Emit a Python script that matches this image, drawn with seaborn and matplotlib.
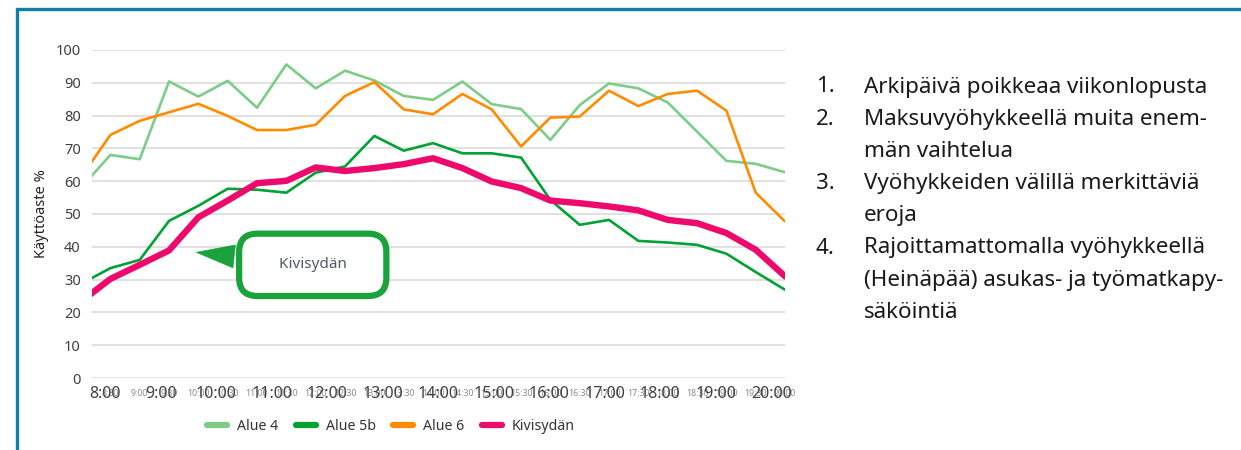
import matplotlib
matplotlib.use("Agg")
import matplotlib.pyplot as plt
import seaborn as sns
import numpy as np
import pandas as pd
from matplotlib.lines import Line2D

# data, one value per half hour 8:00 ... 20:00
ajat = [f"{h}:{m:02d}" for h in range(8, 21) for m in (0, 30)][:25]
tunnit = [f"{h}:00" for h in range(8, 21)]

alue4 = [58, 68.0, 66.7, 90.4, 85.8, 90.6, 82.4, 95.6, 88.3, 93.7, 90.7, 86.0, 84.8,
         90.4, 83.5, 82.0, 72.6, 83.2, 89.8, 88.3, 84.0, 75.1, 66.2, 65.3, 62.7]
alue5b = [28.7, 33.5, 36.0, 47.9, 52.5, 57.7, 57.4, 56.5, 62.6, 64.5, 73.8, 69.3, 71.6,
          68.5, 68.5, 67.2, 54.3, 46.7, 48.2, 41.8, 41.3, 40.6, 37.9, 32.3, 26.9]
alue6 = [61.2, 74.1, 78.4, 81.0, 83.6, 79.9, 75.6, 75.6, 77.2, 86.0, 90.2, 81.9, 80.4,
         86.6, 81.9, 70.6, 79.4, 79.7, 87.6, 82.9, 86.6, 87.6, 81.5, 56.5, 47.7]
kivisydan = [23.3, 30.2, 34.5, 38.9, 49.0, 54.1, 59.4, 60.1, 64.2, 63.1, 64.0, 65.2, 67.0,
             64.0, 59.9, 57.9, 54.1, 53.3, 52.3, 51.1, 48.2, 47.2, 44.2, 39.1, 31.0]

sarjat = ["Alue 4", "Alue 5b", "Alue 6", "Kivisydän"]
arvot = [alue4, alue5b, alue6, kivisydan]
varit = ["#7dcc87", "#00a234", "#ff8c00", "#ee0a6c"]
paksuus = [1.9, 1.9, 1.9, 4.6]

teksti = [("1.", "Arkipäivä poikkeaa viikonlopusta"),
          ("2.", "Maksuvyöhykkeellä muita enem-"), ("", "män vaihtelua"),
          ("3.", "Vyöhykkeiden välillä merkittäviä"), ("", "eroja"),
          ("4.", "Rajoittamattomalla vyöhykkeellä"),
          ("", "(Heinäpää) asukas- ja työmatkapy-"), ("", "säköintiä")]

sns.set_style("white")
plt.rcParams['font.family'] = ['Noto Sans', 'DejaVu Sans']

f = plt.figure(figsize=(12.41, 4.5), dpi=100)
ax = f.add_axes([0.0741, 0.16, 0.5585, 0.7289])

x = np.arange(len(ajat))
for nimi, y, c, lw in zip(sarjat, arvot, varit, paksuus):
    sns.lineplot(x=x, y=y, color=c, linewidth=lw, ax=ax, zorder=3)

# small half hour labels + the big hour labels laid over them
ax.set_xticks(x)
ax.set_xticklabels(ajat, fontsize=6.3, color="#8a8a8a")
ax.tick_params(axis="x", length=0, pad=8)
ax.set_xlim(0.373, 24)
ax.set_ylim(0, 100)
ax.set_yticks(range(0, 101, 10))
ax.yaxis.grid(True, color="#d9d9d9", linewidth=1.1)
ax.xaxis.grid(False)
for s in ax.spines.values():
    s.set_visible(False)
ax.tick_params(axis="y", length=0, labelsize=10.5, labelcolor="#404040", pad=8)
ax.set_ylabel("Käyttöaste %", fontsize=10.5, color="#222222", labelpad=5)

for k, t in enumerate(tunnit):
    ax.text(0.019 + k * (0.98 - 0.019) / 12, -0.048, t, transform=ax.transAxes,
            ha="center", va="center", fontsize=11.5, color="#404040")

# callout
vihrea = "#1aa33a"
ax.annotate("    Kivisydän    ", xy=(3.84, 38.4), xytext=(7.9, 34.5),
            ha="center", va="center", fontsize=11, color="#4f5a65", zorder=5,
            bbox=dict(boxstyle="round,pad=1.55,rounding_size=1.2", fc="white",
                      ec=vihrea, lw=4.5),
            arrowprops=dict(arrowstyle="wedge,tail_width=1.5,shrink_factor=0.5",
                            fc=vihrea, ec=vihrea, lw=0.5))

kahvat = [Line2D([0], [0], color=c, lw=4.5) for c in varit]
f.legend(kahvat, sarjat, loc="center", bbox_to_anchor=(391 / 1241, 1 - 426 / 450),
         ncol=4, frameon=False, fontsize=10.2, handlelength=1.4, handletextpad=0.7,
         columnspacing=1.25, labelcolor="#333333")

# numbered list on the right
for i, (nro, rivi) in enumerate(teksti):
    yy = 1 - (87 + i * 32.2) / 450
    f.text(816 / 1241, yy, nro, ha="left", va="center", fontsize=16.1, color="#1a1a1a")
    f.text(864 / 1241, yy, rivi, ha="left", va="center", fontsize=16.1, color="#1a1a1a")

# frame lines top and left
f.add_artist(Line2D([17 / 1241, 1], [1 - 8.5 / 450] * 2, color="#0f7fa6", lw=2.4,
                    transform=f.transFigure))
f.add_artist(Line2D([17 / 1241] * 2, [0, 1 - 8.5 / 450], color="#0f7fa6", lw=2.4,
                    transform=f.transFigure))

f.savefig("out.png", dpi=100)
